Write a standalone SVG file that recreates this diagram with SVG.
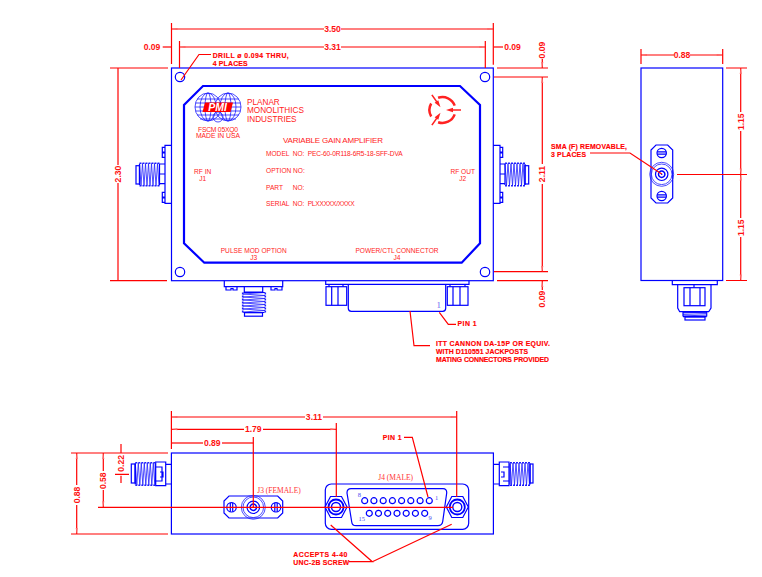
<svg xmlns="http://www.w3.org/2000/svg" xmlns:xlink="http://www.w3.org/1999/xlink" width="762" height="577" viewBox="0 0 762 577">
<style>
text{font-family:"Liberation Sans",Arial,sans-serif;fill:#ff0000}
.b{fill:none;stroke:#0000ff;stroke-width:1.200}
.t{fill:none;stroke:#2020ff;stroke-width:.8}
.r{fill:none;stroke:#ff0000;stroke-width:1.200}
.d{fill:none;stroke:#ff0000;stroke-width:1.200;marker-start:url(#a)}
.n{font-size:8.600px;font-weight:bold;text-anchor:middle;dominant-baseline:central;fill:#f11}
.c{font-size:6.900px;font-weight:bold;stroke:#ff0000;stroke-width:.15}
.l{font-size:6.600px;fill:#f22}
.m{text-anchor:middle}
.s{font-family:"Liberation Serif",serif;fill:#f33;font-size:7.500px}
.p{font-family:"Liberation Serif",serif;fill:#4a4af0;font-size:6.500px;text-anchor:middle}
</style>
<defs>
<marker id="a" markerUnits="userSpaceOnUse" markerWidth="7" markerHeight="4" refX="0" refY="2" orient="auto" overflow="visible"><path d="M0 2L6 1V3Z" fill="#f66"/></marker>
<g id="thr">
<path class="t" d="M-10-11L-8.500 11L-7-11L-5.500 11L-4-11L-2.500 11L-1-11L.5 11L2-11L3.500 11L5-11L6.500 11L8-11L9.500 11"/>
<path d="M-10-11.300H10M-10 11.300H10" fill="none" stroke="#2020ff" stroke-width="1.600" stroke-dasharray="2 1"/>
<path class="b" d="M-10-10.500V10.500M10-10.500V10.500"/>
</g>
<g id="scr"><circle class="b" r="4.700"/><path class="b" d="M-4.500-1.200H4.500M-4.500 1.200H4.500"/></g>
<g id="face"><circle class="t" r="12"/><circle class="t" r="10.300"/><circle class="b" r="6.200"/><circle class="b" r="3.200" style="stroke-width:1.500"/><circle cx="0" cy="0" r=".8" fill="#0000ff"/></g>
<g id="jack"><path class="b" d="M-11 0L-5.500-10.500H5.500L11 0L5.500 10.500H-5.500Z"/><circle class="b" r="7.500" style="stroke-width:1.800"/><circle class="b" r="4.500" style="stroke-width:1.400"/></g>
<g id="garr"><path d="M446 110L453 107.800V109.200H461V110.800H453V112.200Z" fill="#f22"/></g>
<circle id="pin" class="b" r="3"/>
</defs>

<g id="main-view">
<rect class="b" x="171.500" y="68" width="321.800" height="212.700"/>
<path d="M203 86H460L480 105V243.300L461.700 262.700H204.300L184 243.300V105Z" fill="none" stroke="#0000ff" stroke-width="2.200"/>
<circle class="b" cx="180" cy="77" r="4.700"/><circle class="b" cx="485" cy="77" r="4.700"/><circle class="b" cx="180" cy="272" r="4.700"/><circle class="b" cx="485" cy="272" r="4.700"/>
</g>

<g id="fmi-logo">
<ellipse class="t" cx="208" cy="107" rx="13" ry="14"/><ellipse class="t" cx="208" cy="107" rx="8" ry="14"/><ellipse class="t" cx="208" cy="107" rx="3" ry="14"/>
<ellipse class="t" cx="228" cy="107" rx="13" ry="14"/><ellipse class="t" cx="228" cy="107" rx="8" ry="14"/><ellipse class="t" cx="228" cy="107" rx="3" ry="14"/>
<path class="t" d="M197 99H239M195.500 103H240.500M195 107H241M195.500 111H240.500M197 115H239M200 119H236"/>
<ellipse class="t" cx="218" cy="117" rx="5" ry="5"/>
<path d="M205 102.500H233L230.500 112H202.500Z" fill="#ff0000"/>
<text x="217.500" y="111" font-size="10.500" font-weight="bold" font-style="italic" text-anchor="middle" style="fill:#fff">PMI</text>
<text class="l m" x="218" y="131.500" style="font-size:6.800px" textLength="40" lengthAdjust="spacing">FSCM 05XQ0</text>
<text class="l m" x="218" y="138" style="font-size:6.800px">MADE IN USA</text>
<text class="l" x="247" y="104.500" style="font-size:8.200px">PLANAR</text>
<text class="l" x="247" y="113" style="font-size:8.200px">MONOLITHICS</text>
<text class="l" x="247" y="121.500" style="font-size:8.200px">INDUSTRIES</text>
</g>

<g id="gear-logo">
<path d="M454.700 114.400A13 13 0 0 1 438.100 122.200M431.200 116.500A13 13 0 0 1 431.200 103.500M438.100 97.800A13 13 0 0 1 454.700 105.600" fill="none" stroke="#f22" stroke-width="2.500"/>
<use xlink:href="#garr" href="#garr"/>
<use xlink:href="#garr" href="#garr" transform="rotate(-125 442.500 110)"/>
<use xlink:href="#garr" href="#garr" transform="rotate(125 442.500 110)"/>
</g>

<g id="panel-text">
<text class="l" x="283" y="142.500" style="font-size:8px" textLength="100" lengthAdjust="spacing">VARIABLE GAIN AMPLIFIER</text>
<text class="l" x="266" y="156">MODEL</text><text class="l" x="292.700" y="156">NO:</text>
<text class="l" x="307.700" y="156" textLength="95" lengthAdjust="spacing">PEC-60-0R118-6R5-18-SFF-DVA</text>
<text class="l" x="266" y="172.500">OPTION NO:</text>
<text class="l" x="266" y="190">PART</text><text class="l" x="292.700" y="190">NO:</text>
<text class="l" x="266" y="206">SERIAL</text><text class="l" x="292.700" y="206">NO:</text>
<text class="l" x="307.700" y="206" textLength="47" lengthAdjust="spacing">PLXXXXX/XXXX</text>
<text class="l m" x="202.700" y="173.500">RF IN</text><text class="l m" x="202.700" y="180.500">J1</text>
<text class="l m" x="462.700" y="173.500">RF OUT</text><text class="l m" x="462.700" y="180.500">J2</text>
<text class="l m" x="253.700" y="253">PULSE MOD OPTION</text><text class="l m" x="253.700" y="259.500">J3</text>
<text class="l m" x="397" y="253">POWER/CTL CONNECTOR</text><text class="l m" x="397" y="259.500">J4</text>
</g>

<g id="j1">
<path class="b" d="M171.500 145.300H165V203.300H171.500M165 147.300H162.300V152H164V153H162.300V157.300H165M165 192.300H162.300V197H164V198H162.300V202.300H165M165 164H159.300M165 183.700H159.300M165 174H159.300"/>
<use xlink:href="#thr" href="#thr" transform="translate(149.500 174.500)"/>
<rect class="b" x="136" y="165.700" width="3.500" height="18.300"/>
</g>
<g id="j2">
<path class="b" d="M493.300 145.300H500V203.300H493.300M500 147.300H502.700V152H501V153H502.700V157.300H500M500 192.300H502.700V197H501V198H502.700V202.300H500M500 164H505M500 183.700H505M500 174H505"/>
<use xlink:href="#thr" href="#thr" transform="translate(515 174.500)"/>
<rect class="b" x="525" y="165.700" width="3.700" height="18.300"/>
</g>
<g id="j3-side">
<path class="b" d="M224.300 280.700V286.700H282.700V280.700M226 286.700V290H231V288.500H233V290H237V286.700M271 286.700V290H275V288.500H277V290H282V286.700M244.300 286.700V292M262.700 286.700V292M244.300 292H262.700"/>
<use xlink:href="#thr" href="#thr" transform="translate(254 302.500) rotate(90)"/>
<rect class="b" x="244.500" y="312.700" width="18" height="3.500"/>
</g>
<g id="j4-side">
<path class="b" d="M325.700 280.700V284.300H469V280.700M348.300 284.300V308.300Q348.300 311.300 351.300 311.300H442.700Q445.700 311.300 445.700 308.300V284.300"/>
<rect class="b" x="326" y="286.700" width="20.700" height="18.600"/><path class="b" d="M331.700 286.700V305.300M338 286.700V305.300M329 284.300V286.700M343 284.300V286.700"/>
<rect class="b" x="447.300" y="286.700" width="20.700" height="18.600"/><path class="b" d="M453 286.700V305.300M460 286.700V305.300M450 284.300V286.700M465 284.300V286.700"/>
<text class="p" x="438.700" y="308" style="font-size:9px;fill:#6a6af0">1</text>
</g>

<g id="side-view">
<rect class="b" x="641" y="68" width="81.700" height="212.500"/>
<path class="b" d="M656 145H667.700L672.700 150V198L667.700 203H656L651 198V150Z"/>
<use xlink:href="#face" href="#face" transform="translate(661.700 174.300)"/>
<use xlink:href="#scr" href="#scr" transform="translate(661.700 153)"/>
<use xlink:href="#scr" href="#scr" transform="translate(661.700 196)"/>
<path class="b" d="M672.300 280.500V284.700H717.300V280.500M677.700 284.700V308L679.700 311.700H708.700L711 308V284.700"/>
<rect class="b" x="684" y="287.700" width="21" height="18"/><path class="b" d="M690 287.700V305.700M700 287.700V305.700M694 284.700V287.700"/>
<path class="t" d="M683 313L706 312M683 314.500L706 313.500M683 316L706 315"/>
<path d="M683 312H706.700M683 316.500H706.700" fill="none" stroke="#0000ff" stroke-width="1.300"/>
<path class="b" d="M683 312V316.500M706.700 312V316.500"/>
<rect class="b" x="685" y="317" width="20" height="3"/>
</g>

<g id="bottom-view">
<rect class="b" x="171.400" y="453" width="322" height="81"/>
<path class="b" d="M171.400 464.300H165.700M171.400 484H165.700M155.700 462H165.700V485.700H155.700ZM155.700 467H162V481H155.700M160 472H163V477H160"/>
<use xlink:href="#thr" href="#thr" transform="translate(145.300 474)"/>
<rect class="b" x="131.300" y="464" width="3.700" height="19"/>
<path class="b" d="M493.400 464.300H499.300M493.400 484H499.300M499.300 462H509V485.700H499.300ZM503 467H509V481H503M501 472H504V477H501"/>
<use xlink:href="#thr" href="#thr" transform="translate(520 474)"/>
<rect class="b" x="530" y="464" width="3" height="19"/>
</g>
<g id="j3-face">
<path class="b" d="M229 496H277.700L282.700 501V513L277.700 518H229L224 513V501Z"/>
<use xlink:href="#face" href="#face" transform="translate(253.300 507.300)"/>
<use xlink:href="#scr" href="#scr" transform="translate(231.500 507.300) rotate(90)"/>
<use xlink:href="#scr" href="#scr" transform="translate(276 507.300) rotate(90)"/>
<text class="s m" x="279" y="492.700">J3 (FEMALE)</text>
</g>
<g id="j4-face">
<rect class="b" x="325.300" y="484" width="143.400" height="45.300" rx="6"/>
<path class="b" d="M351 488.700H443Q447 488.700 446.700 493L442.700 521.700Q442 525.700 438 525.700H356Q352 525.700 351.700 521.700L347 493Q347 488.700 351 488.700Z"/>
<use xlink:href="#jack" href="#jack" transform="translate(336 507)"/>
<use xlink:href="#jack" href="#jack" transform="translate(457.300 507)"/>
<use xlink:href="#pin" href="#pin" x="364.700" y="500.700"/><use xlink:href="#pin" href="#pin" x="373.900" y="500.700"/><use xlink:href="#pin" href="#pin" x="383.200" y="500.700"/><use xlink:href="#pin" href="#pin" x="392.400" y="500.700"/><use xlink:href="#pin" href="#pin" x="401.600" y="500.700"/><use xlink:href="#pin" href="#pin" x="410.800" y="500.700"/><use xlink:href="#pin" href="#pin" x="420.100" y="500.700"/><use xlink:href="#pin" href="#pin" x="429.300" y="500.700"/>
<use xlink:href="#pin" href="#pin" x="369.300" y="513.300"/><use xlink:href="#pin" href="#pin" x="378.500" y="513.300"/><use xlink:href="#pin" href="#pin" x="387.700" y="513.300"/><use xlink:href="#pin" href="#pin" x="397" y="513.300"/><use xlink:href="#pin" href="#pin" x="406.200" y="513.300"/><use xlink:href="#pin" href="#pin" x="415.400" y="513.300"/><use xlink:href="#pin" href="#pin" x="424.700" y="513.300"/>
<text class="p" x="359.300" y="497">8</text><text class="p" x="436.700" y="499.500">1</text><text class="p" x="361.700" y="520.500">15</text><text class="p" x="430" y="520">9</text>
<text class="s m" x="395.700" y="480">J4 (MALE)</text>
</g>

<g id="connectors">
<path class="r" d="M171.500 23V64M493.300 23V64.700M179.500 41V68M485.300 41V68M110 68H168M110 280.700H167M497 68H548M494 77H548M494 271.700H548M497 280.700H548"/>
<path class="d" d="M171.500 29H324"/><path class="d" d="M493.300 29H341"/>
<path class="d" d="M179.500 47H324"/><path class="d" d="M485.300 47H341"/>
<path class="d" d="M171 47H162.700"/><path class="d" d="M493.800 47H503"/>
<path class="d" d="M118 68V165"/><path class="d" d="M118 280.500V183"/>
<path class="d" d="M542.300 77V164"/><path class="d" d="M542.300 272V184"/>
<path class="d" d="M542.300 68V59"/><path class="d" d="M542.300 281V290"/>
<path class="r" d="M181 80L199 54.500H211M590 153H630L661.700 174M439.300 312.300L448.300 324.300H456M410 311L414 345.700H430"/>
<path class="r" d="M641 49V64M722.700 49V64M726 68H747M677 174.500H747M726 280.500H747"/>
<path class="d" d="M641 55H674"/><path class="d" d="M722.700 55H690"/>
<path class="d" d="M740.700 68V112"/><path class="d" d="M740.700 174.500V131"/>
<path class="d" d="M740.700 174.500V218"/><path class="d" d="M740.700 280.500V237"/>
<path class="r" d="M171.400 411V449M456.700 411V497M336.300 423V497M253.300 437V507M98 507.300H453M71 453H168M71 534H168M121 444V453M115 474.300H129M121 475.700V483"/>
<path class="d" d="M171.400 417H305"/><path class="d" d="M456.700 417H323"/>
<path class="d" d="M171.400 429.300H244"/><path class="d" d="M336.300 429.300H263"/>
<path class="d" d="M171.400 443H203"/><path class="d" d="M253.300 443H222"/>
<path class="d" d="M76.700 453V485"/><path class="d" d="M76.700 534V505"/>
<path class="d" d="M103.300 453V471"/><path class="d" d="M103.300 507.300V490"/>
<path class="r" d="M404 437.300H412.300L428 497M349 561.700H372.300L330.700 525M372.300 561.700L451.700 524.300"/>
</g>

<g id="labels">
<text class="n" x="332.500" y="29">3.50</text><text class="n" x="332.500" y="47">3.31</text><text class="n" x="152" y="47">0.09</text><text class="n" x="512.500" y="47">0.09</text>
<text class="n" transform="rotate(-90 118 174)" x="118" y="174">2.30</text>
<text class="n" transform="rotate(-90 542.300 174)" x="542.300" y="174">2.11</text>
<text class="n" transform="rotate(-90 542.300 50)" x="542.300" y="50">0.09</text>
<text class="n" transform="rotate(-90 542.300 299)" x="542.300" y="299">0.09</text>
<text class="n" x="682" y="55">0.88</text>
<text class="n" transform="rotate(-90 740.700 121.700)" x="740.700" y="121.700">1.15</text>
<text class="n" transform="rotate(-90 740.700 227.700)" x="740.700" y="227.700">1.15</text>
<text class="n" x="314" y="417">3.11</text><text class="n" x="253.300" y="429.300">1.79</text><text class="n" x="212.300" y="443">0.89</text>
<text class="n" transform="rotate(-90 76.700 495)" x="76.700" y="495">0.88</text>
<text class="n" transform="rotate(-90 103.300 480.700)" x="103.300" y="480.700">0.58</text>
<text class="n" transform="rotate(-90 121 463.300)" x="121" y="463.300">0.22</text>
<text class="c" x="212.700" y="57.500" textLength="76" lengthAdjust="spacing">DRILL ø 0.094 THRU,</text>
<text class="c" x="212.700" y="65.500" textLength="35" lengthAdjust="spacing">4 PLACES</text>
<text class="c" x="551" y="148.500" textLength="76" lengthAdjust="spacing">SMA (F) REMOVABLE,</text>
<text class="c" x="551" y="156.500" textLength="35" lengthAdjust="spacing">3 PLACES</text>
<text class="c" x="457.500" y="326" textLength="19" lengthAdjust="spacing">PIN 1</text>
<text class="c" x="436" y="345.500" textLength="114" lengthAdjust="spacing">ITT CANNON DA-15P OR EQUIV.</text>
<text class="c" x="436" y="353.500" textLength="92" lengthAdjust="spacing">WITH D110551 JACKPOSTS</text>
<text class="c" x="436" y="361.500" textLength="113" lengthAdjust="spacing">MATING CONNECTORS PROVIDED</text>
<text class="c" x="382.700" y="440" textLength="19" lengthAdjust="spacing">PIN 1</text>
<text class="c" x="293.300" y="556.500" textLength="54" lengthAdjust="spacing">ACCEPTS 4-40</text>
<text class="c" x="293.300" y="564.700" textLength="56" lengthAdjust="spacing">UNC-2B SCREW</text>
</g>
</svg>
